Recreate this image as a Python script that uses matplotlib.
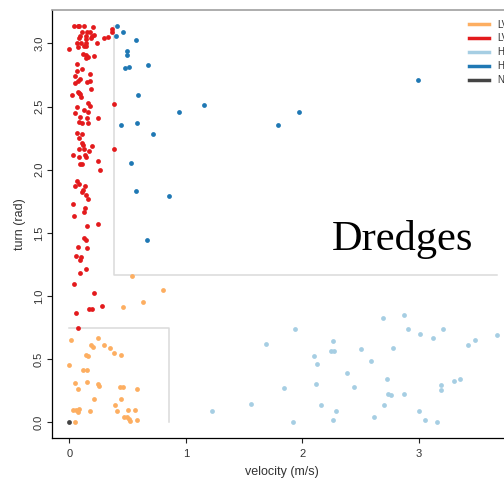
import matplotlib
matplotlib.use("Agg")
import matplotlib.pyplot as plt

# low velocity / low turn (orange)
lvlt_x = [0.012, 0.244, 0.186, 0.203, 0.295, 0.347, 0.381, 0.441, 0.143, 0.158,
          0.0, 0.12, 0.152, 0.049, 0.149, 0.244, 0.252, 0.072, 0.438, 0.464,
          0.584, 0.215, 0.446, 0.395, 0.034, 0.06, 0.086, 0.075, 0.18, 0.412,
          0.504, 0.564, 0.47, 0.498, 0.512, 0.524, 0.578, 0.049,
          0.464, 0.63, 0.807, 0.541]
lvlt_y = [0.654, 0.67, 0.61, 0.60, 0.614, 0.588, 0.549, 0.535, 0.535, 0.527,
          0.456, 0.414, 0.414, 0.314, 0.317, 0.303, 0.287, 0.266, 0.28, 0.28,
          0.266, 0.182, 0.182, 0.135, 0.097, 0.10, 0.108, 0.082, 0.09, 0.09,
          0.095, 0.097, 0.042, 0.042, 0.024, 0.01, 0.016, 0.0,
          0.915, 0.95, 1.047, 1.156]

# low velocity / high turn (red)
lvht_x = [0.043, 0.072, 0.086, 0.129, 0.206, 0.106, 0.152, 0.175, 0.092, 0.146,
          0.197, 0.215, 0.083, 0.143, 0.184, 0.295, 0.33, 0.364, 0.369, 0.063,
          0.1, 0.141, 0.235, 0.0, 0.077, 0.124, 0.146, 0.118, 0.141, 0.161,
          0.209, 0.141, 0.066, 0.106, 0.063, 0.175, 0.052, 0.094, 0.077, 0.052,
          0.155, 0.178, 0.186, 0.02, 0.077, 0.094, 0.1, 0.083, 0.163, 0.18,
          0.063, 0.129, 0.163, 0.049, 0.094, 0.152, 0.244, 0.083, 0.106, 0.163,
          0.384,
          0.069, 0.106, 0.086, 0.106, 0.118, 0.192, 0.083, 0.129, 0.169, 0.029,
          0.135, 0.146, 0.083, 0.249, 0.092, 0.106, 0.266, 0.384, 0.069, 0.086,
          0.049, 0.135, 0.115, 0.106, 0.141, 0.163, 0.029, 0.137, 0.124, 0.043,
          0.249, 0.149,
          0.129, 0.146, 0.072, 0.152, 0.057, 0.1, 0.092, 0.143, 0.092, 0.043,
          0.215, 0.281, 0.166, 0.192, 0.057, 0.072]
lvht_y = [3.138, 3.138, 3.138, 3.138, 3.127, 3.088, 3.088, 3.088, 3.06, 3.06,
          3.06, 3.07, 3.04, 3.035, 3.045, 3.04, 3.053, 3.088, 3.11, 3.003,
          3.006, 3.006, 3.006, 2.953, 2.97, 2.98, 2.98, 2.916, 2.908, 2.895,
          2.898, 2.882, 2.839, 2.797, 2.784, 2.76, 2.744, 2.718, 2.702, 2.684,
          2.697, 2.70, 2.639, 2.591, 2.613, 2.597, 2.578, 2.608, 2.528, 2.507,
          2.499, 2.475, 2.457, 2.451, 2.42, 2.407, 2.407, 2.38, 2.367, 2.367,
          2.518,
          2.288, 2.283, 2.249, 2.209, 2.196, 2.19, 2.162, 2.162, 2.148, 2.119,
          2.119, 2.103, 2.098, 2.069, 2.043, 2.043, 1.998, 2.164, 1.911, 1.885,
          1.871, 1.871, 1.839, 1.821, 1.802, 1.766, 1.726, 1.697, 1.663, 1.631,
          1.57, 1.557,
          1.457, 1.443, 1.388, 1.383, 1.317, 1.306, 1.285, 1.211, 1.18, 1.095,
          1.021, 0.921, 0.895, 0.895, 0.863, 0.744]

# high velocity / low turn (light blue)
hvlt_x = [1.225, 1.562, 1.686, 1.935, 1.84, 1.92, 2.10, 2.129, 2.115, 2.163,
          2.289, 2.266, 2.266, 2.244, 2.273, 2.381, 2.446, 2.506, 2.592, 2.615,
          2.692, 2.701, 2.73, 2.739, 2.759, 2.781, 2.873, 2.876, 2.905, 2.999,
          3.013, 3.056, 3.122, 3.159, 3.188, 3.193, 3.208, 3.302, 3.351, 3.425,
          3.482, 3.671]
hvlt_y = [0.087, 0.147, 0.622, 0.736, 0.274, 0.0, 0.523, 0.462, 0.301, 0.135,
          0.087, 0.021, 0.641, 0.562, 0.567, 0.388, 0.28, 0.58, 0.488, 0.04,
          0.823, 0.139, 0.345, 0.224, 0.219, 0.588, 0.85, 0.222, 0.741, 0.087,
          0.697, 0.021, 0.667, 0.0, 0.293, 0.253, 0.741, 0.327, 0.34, 0.61,
          0.654, 0.694]

# high velocity / high turn (dark blue)
hvht_x = [0.412, 0.464, 0.401, 0.57, 0.498, 0.498, 0.478, 0.515, 0.673, 2.99,
          0.593, 0.942, 1.156, 1.969, 1.789, 0.441, 0.578, 0.716, 0.527, 0.57,
          0.853, 0.667]
hvht_y = [3.135, 3.093, 3.061, 3.027, 2.94, 2.906, 2.805, 2.813, 2.826, 2.713,
          2.594, 2.459, 2.512, 2.454, 2.351, 2.351, 2.372, 2.285, 2.051, 1.831,
          1.792, 1.443]

# not moving
nm_x = [0.0]
nm_y = [0.0]

# threshold lines
vel_low, turn_low = 0.857, 0.744
vel_high, turn_high, turn_max = 0.386, 1.166, 3.14
x_end = 3.67

groups = [
    ("LV-LT", lvlt_x, lvlt_y, "#FDAE61"),
    ("LV-HT", lvht_x, lvht_y, "#E31A1C"),
    ("HV-LT", hvlt_x, hvlt_y, "#A6CEE3"),
    ("HV-HT", hvht_x, hvht_y, "#1F78B4"),
    ("NM", nm_x, nm_y, "#444444"),
]

plt.rcParams["font.family"] = ["Liberation Sans", "DejaVu Sans"]

fig = plt.figure(figsize=(5.04, 4.79), dpi=100)
ax = fig.add_axes([0.1026, 0.0856, 0.913, 0.8935])

grey = "#DADADA"
ax.plot([0, vel_low, vel_low], [turn_low, turn_low, 0], color=grey, lw=1.1, zorder=1)
ax.plot([vel_high, vel_high, x_end], [turn_max, turn_high, turn_high], color=grey, lw=1.1, zorder=1)

for label, xs, ys, col in groups:
    ax.scatter(xs, ys, s=12, color=col, linewidths=0, zorder=3)
    ax.plot([], [], color=col, lw=2.5, label=label)

ax.set_xlim(-0.151, 3.80)
ax.set_ylim(-0.124, 3.264)
ax.set_xticks([0, 1, 2, 3])
ax.set_yticks([0, 0.5, 1.0, 1.5, 2.0, 2.5, 3.0])
ax.set_yticklabels(["0.0", "0.5", "1.0", "1.5", "2.0", "2.5", "3.0"])
ax.tick_params(axis="both", labelsize=8, length=3.5, width=0.8, color="#222222",
               labelcolor="#333333")
ax.tick_params(axis="x", pad=4.5)
ax.tick_params(axis="y", pad=2, labelrotation=90)
for t in ax.get_yticklabels():
    t.set_va("center")

ax.spines["right"].set_visible(False)
ax.spines["top"].set_color("#A0A0A0")
ax.spines["top"].set_linewidth(1.2)
ax.spines["left"].set_linewidth(0.9)
ax.spines["bottom"].set_linewidth(0.9)

ax.set_xlabel("velocity (m/s)", fontsize=9, color="#333333", va="center")
ax.xaxis.set_label_coords(0.5, -0.0787)
ax.set_ylabel("turn (rad)", fontsize=9, color="#333333", va="center")
ax.yaxis.set_label_coords(-0.0689, 0.5)

fig.legend(loc="upper left", bbox_to_anchor=(469 / 504, 1 - 19.5 / 479),
           frameon=False, fontsize=7, borderpad=0, borderaxespad=0,
           handlelength=2.06, handletextpad=0.8, labelspacing=0.4,
           labelcolor="#333333")

fig.text(332 / 504, 1 - 250 / 479, "Dredges", fontsize=30.5,
         family=["Liberation Serif", "DejaVu Serif"], ha="left", va="baseline")

fig.savefig("out.png", dpi=100)
